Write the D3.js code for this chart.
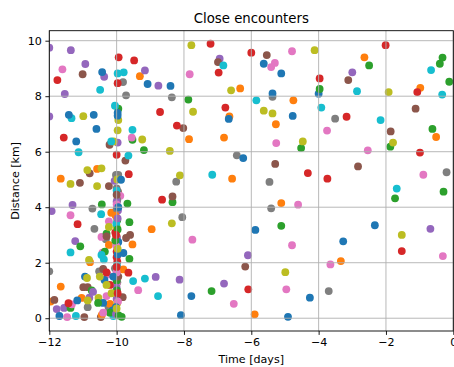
<!DOCTYPE html>
<html><head><meta charset="utf-8">
<script src="https://cdn.jsdelivr.net/npm/d3@7"></script>
<style>body{margin:0;background:#fff} text{font-family:"DejaVu Sans",sans-serif;fill:#000}</style>
</head><body><svg id="c" width="454" height="367"></svg>
<script>
const title = "Close encounters";
const xLabel = "Time [days]";
const yLabel = "Distance [km]";
const xTicks = [-12, -10, -8, -6, -4, -2, 0];
const yTicks = [0, 2, 4, 6, 8, 10];

const blue = [[-5.63,9.17],[-5.11,8.82],[-4.0,8.09],[-8.40,8.37],[-9.08,8.44],[-6.67,7.18],[-5.37,8.10],[-4.77,7.29],[-6.24,5.77],[-5.88,3.18],[-2.33,3.35],[-3.27,2.77],[-4.26,0.74],[-7.78,0.80],[-8.09,0.11],[-4.91,0.05],
 [-10.43,8.87],[-11.42,7.33],[-10.68,7.33],[-10.60,6.82],[-11.20,6.37],[-9.97,7.40],[-9.97,7.30],[-9.87,4.99],[-9.80,2.35],[-10.94,1.50],[-10.36,1.38],[-11.70,0.08],[-11.17,0.64],[-10.12,0.28],[-10.40,0.55],[-9.95,2.75],[-10.1,1.5],[-9.97,2.3],[-10.02,0.4],[-9.95,4.0]];
const orange = [[-9.31,8.72],[-7.85,6.45],[-8.96,3.21],[-6.65,7.27],[-6.81,6.51],[-6.33,8.28],[-5.27,6.99],[-4.75,7.85],[-6.57,5.03],[-5.11,4.15],[-2.64,9.40],[-0.98,8.30],[-0.51,6.53],[-3.34,2.06],[-5.90,0.14],
 [-10.58,5.38],[-11.66,5.03],[-10.16,3.80],[-9.53,2.66],[-9.80,1.76],[-10.79,2.02],[-11.66,1.14],[-11.96,0.60],[-11.04,0.73],[-10.23,2.64],[-10.2,0.52],[-10.44,0.12],[-10.0,2.95],[-9.96,1.75],[-10.03,3.7]];
const green = [[-7.87,7.88],[-8.34,4.18],[-4.52,6.13],[-3.97,8.26],[-2.50,9.11],[-0.40,9.17],[-0.32,9.39],[-0.12,8.52],[-1.87,6.18],[-0.62,6.82],[-1.73,4.32],[-0.29,4.56],[-5.11,3.33],[-7.18,0.98],
 [-9.95,7.55],[-9.53,6.43],[-9.19,6.06],[-10.44,4.10],[-9.68,4.13],[-9.62,3.46],[-9.98,3.54],[-11.08,2.59],[-9.62,2.14],[-10.30,3.05],[-10.74,1.0],[-11.37,0.37],[-9.85,0.05],[-10.35,2.4],[-10.0,1.35],[-10.2,0.2],[-10.55,0.55],[-9.97,3.2],[-9.99,1.0],[-10.04,2.8],[-9.94,0.1]];
const red = [[-7.21,9.89],[-6.97,8.85],[-6.0,9.57],[-8.71,7.43],[-8.21,6.94],[-8.65,4.27],[-6.77,7.59],[-3.97,8.64],[-4.32,5.23],[-3.17,7.26],[-3.74,5.03],[-2.01,9.84],[-1.07,8.15],[-0.99,5.97],[-1.53,2.42],[-6.09,1.04],
 [-11.76,8.58],[-9.94,9.40],[-9.48,9.29],[-9.97,8.47],[-11.57,6.51],[-10.0,5.89],[-9.64,5.19],[-11.16,3.39],[-10.04,3.09],[-9.65,1.64],[-11.43,0.54],[-10.0,2.4],[-10.0,2.2],[-9.98,2.04],[-10.2,1.2],[-10.3,1.65],[-10.0,1.85],[-10.02,3.0],[-9.97,0.9]];
const purple = [[-6.94,9.35],[-8.76,8.38],[-9.16,8.93],[-3.0,8.86],[-0.68,3.22],[-6.10,2.27],[-8.13,1.39],[-8.84,1.49],[-6.81,1.25],
 [-12.0,9.75],[-11.36,9.66],[-10.93,9.16],[-11.54,8.08],[-10.37,8.70],[-12.0,7.27],[-9.97,6.33],[-10.06,4.95],[-11.31,4.08],[-11.93,3.86],[-9.96,3.88],[-11.23,2.78],[-11.78,0.33],[-11.56,0.37],[-10.81,0.74],[-10.0,0.7],[-10.05,0.25],[-10.0,4.2],[-10.7,0.95],[-10.0,1.1],[-9.99,2.9],[-10.02,0.15],[-9.97,3.6]];
const brown = [[-6.99,9.23],[-8.02,6.85],[-8.34,4.39],[-5.54,9.48],[-5.29,5.56],[-3.12,8.58],[-2.83,5.47],[-1.86,6.73],[-1.12,7.55],[-6.18,1.86],
 [-11.01,8.79],[-10.21,6.25],[-9.74,5.68],[-10.80,5.22],[-11.09,4.88],[-10.23,4.76],[-9.96,4.56],[-9.60,3.0],[-9.72,2.89],[-10.40,1.78],[-10.99,1.12],[-10.86,1.12],[-11.85,0.66],[-10.96,0.04],[-10.47,0.04],[-9.82,0.76],[-10.3,2.95],[-10.0,4.45],[-9.95,1.5]];
const pink = [[-7.83,8.79],[-5.41,9.05],[-5.30,9.20],[-4.79,9.62],[-5.26,6.31],[-4.61,4.09],[-3.75,6.76],[-2.54,6.05],[-0.89,5.17],[-4.79,2.63],[-7.75,2.83],[-3.65,1.94],[-0.31,2.24],[-9.36,1.01],[-6.52,0.52],[-4.96,1.04],
 [-11.61,8.97],[-9.55,6.51],[-9.89,4.41],[-11.37,3.71],[-10.23,3.49],[-10.45,2.93],[-10.42,2.36],[-10.27,1.58],[-11.47,0.04],[-11.33,0.50],[-10.3,0.8],[-10.0,1.25],[-10.0,1.65],[-10.0,4.1],[-10.4,0.2],[-10.01,2.6],[-9.96,0.6]];
const gray = [[-8.36,7.96],[-8.23,4.92],[-8.05,3.64],[-5.37,7.98],[-6.43,5.87],[-5.46,4.91],[-5.41,3.96],[-3.51,7.19],[-0.20,5.26],[-3.70,0.98],
 [-9.81,8.51],[-9.72,8.03],[-10.02,5.16],[-9.95,5.16],[-10.72,3.95],[-10.66,3.22],[-10.32,2.85],[-12.0,1.69],[-10.52,1.69],[-9.98,4.26],[-10.0,4.68],[-10.86,0.40],[-10.24,0.40],[-10.05,1.8],[-9.98,1.3],[-10.0,3.95],[-10.02,0.95]];
const olive = [[-7.78,9.84],[-7.73,7.44],[-8.42,6.03],[-8.12,5.15],[-8.36,3.42],[-6.60,8.21],[-5.63,7.48],[-5.37,7.38],[-4.47,6.37],[-4.12,9.66],[-1.92,8.15],[-1.79,6.33],[-1.53,3.0],[-4.99,1.66],
 [-10.99,7.28],[-9.95,7.14],[-9.97,6.77],[-9.24,6.44],[-10.09,6.37],[-9.98,5.0],[-10.87,5.34],[-10.45,5.40],[-11.37,4.84],[-10.58,4.76],[-10.23,3.29],[-10.82,2.1],[-10.50,1.50],[-10.86,0.64],[-10.54,0.73],[-10.88,1.45],[-10.0,3.3],[-9.98,0.55],[-10.3,1.2],[-10.15,0.9],[-9.97,2.5],[-10.0,0.35]];
const cyan = [[-6.83,9.11],[-2.86,8.18],[-0.66,8.94],[-0.33,8.06],[-5.85,7.85],[-3.92,7.59],[-2.16,7.14],[-7.16,5.17],[-1.68,4.67],[-9.16,1.43],[-8.77,0.80],[-9.51,1.34],
 [-10.49,8.23],[-9.97,8.82],[-9.79,8.86],[-11.34,7.21],[-11.13,5.98],[-10.05,7.66],[-9.53,6.79],[-10.16,6.37],[-9.65,5.86],[-10.46,3.75],[-11.37,2.37],[-10.38,2.12],[-11.21,0.08],[-10.1,0.08],[-10.0,4.6],[-10.0,2.65],[-10.45,2.28],[-9.99,1.9],[-10.01,3.4]];

const series = [
  {color:"#1f77b4", pts:blue},{color:"#ff7f0e", pts:orange},{color:"#2ca02c", pts:green},
  {color:"#d62728", pts:red},{color:"#9467bd", pts:purple},{color:"#8c564b", pts:brown},
  {color:"#e377c2", pts:pink},{color:"#7f7f7f", pts:gray},{color:"#bcbd22", pts:olive},
  {color:"#17becf", pts:cyan}
];
const points = [];
const maxLen = d3.max(series, s => s.pts.length);
for (let i = 0; i < maxLen; i++) series.forEach(s => { if (i < s.pts.length) points.push({x:s.pts[i][0], y:s.pts[i][1], c:s.color}); });

const m = {l:49.3, r:453.3, t:30.7, b:331};
const svg = d3.select("#c");
const x = d3.scaleLinear().domain([-12, 0]).range([m.l, m.r]);
const y = d3.scaleLinear().domain([-0.46, 10.36]).range([m.b, m.t]);

svg.append("defs").append("clipPath").attr("id","clip")
  .append("rect").attr("x",m.l).attr("y",m.t).attr("width",m.r-m.l).attr("height",m.b-m.t);

svg.append("g").attr("clip-path","url(#clip)").selectAll("circle").data(points).join("circle")
  .attr("cx", d => x(d.x)).attr("cy", d => y(d.y)).attr("r", 3.9).attr("fill", d => d.c);

const grid = svg.append("g").attr("stroke","#b0b0b0").attr("stroke-width",0.9);
grid.selectAll("line.v").data(xTicks).join("line").attr("class","v")
  .attr("x1", d => x(d)).attr("x2", d => x(d)).attr("y1", m.t).attr("y2", m.b);
grid.selectAll("line.h").data(yTicks).join("line").attr("class","h")
  .attr("y1", d => y(d)).attr("y2", d => y(d)).attr("x1", m.l).attr("x2", m.r);

const fmt = d => d < 0 ? "\u2212" + Math.abs(d) : String(d);
const xa = svg.append("g").attr("transform", `translate(0,${m.b})`)
  .call(d3.axisBottom(x).tickValues(xTicks).tickFormat(fmt).tickSize(3.9).tickSizeOuter(0).tickPadding(3.5));
const ya = svg.append("g").attr("transform", `translate(${m.l},0)`)
  .call(d3.axisLeft(y).tickValues(yTicks).tickFormat(fmt).tickSize(3.9).tickSizeOuter(0).tickPadding(3.5));
[xa, ya].forEach(a => {
  a.select(".domain").remove();
  a.selectAll("text").attr("font-size", 11.1).attr("font-family", "DejaVu Sans").attr("fill","#000");
  a.selectAll("line").attr("stroke","#000").attr("stroke-width",0.9);
});

svg.append("rect").attr("x",m.l).attr("y",m.t).attr("width",m.r-m.l).attr("height",m.b-m.t)
  .attr("fill","none").attr("stroke","#000").attr("stroke-width",0.9);

svg.append("text").attr("x",(m.l+m.r)/2).attr("y",22.5).attr("text-anchor","middle").attr("font-size",13.3).text(title);
svg.append("text").attr("x",(m.l+m.r)/2).attr("y",362.5).attr("text-anchor","middle").attr("font-size",11.1).text(xLabel);
svg.append("text").attr("transform",`translate(19,${(m.t+m.b)/2}) rotate(-90)`).attr("text-anchor","middle").attr("font-size",11.1).text(yLabel);
</script></body></html>
